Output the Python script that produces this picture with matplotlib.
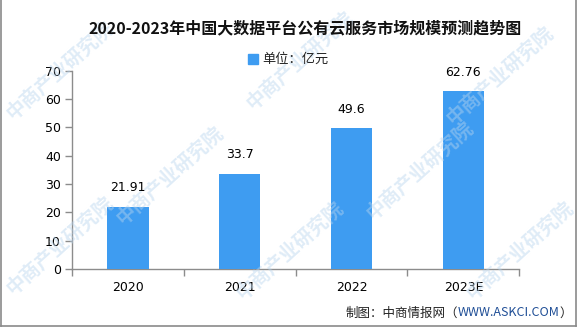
import matplotlib.pyplot as plt
from matplotlib.patches import Rectangle
from matplotlib.lines import Line2D
from matplotlib.ticker import FixedLocator

plt.rcParams['font.family'] = ['Noto Sans CJK SC', 'DejaVu Sans']

# data
years = ['2020', '2021', '2022', '2023E']
values = [21.91, 33.7, 49.6, 62.76]
value_labels = ['21.91', '33.7', '49.6', '62.76']
yticks = [0, 10, 20, 30, 40, 50, 60, 70]

bar_color = '#3E9CF1'
axis_color = '#8C8C8C'
W, H = 585, 327

fig = plt.figure(figsize=(5.85, 3.27), dpi=100)
ax = fig.add_axes([0.1231, 0.1774, 0.7646, 0.6064])

x = list(range(len(years)))
bars = ax.bar(x, values, width=0.37, color=bar_color, zorder=3)
for b, lab in zip(bars, value_labels):
    ax.annotate(lab, (b.get_x() + b.get_width() / 2, b.get_height()),
                xytext=(0, 9), textcoords='offset points',
                ha='center', va='bottom', fontsize=9, family='DejaVu Sans',
                color='black', zorder=4)

ax.set_xlim(-0.5, len(years) - 0.5)
ax.set_ylim(0, 70)
ax.set_yticks(yticks)
ax.set_yticklabels([str(t) for t in yticks], family='DejaVu Sans', fontsize=9)
ax.set_xticks(x)
ax.set_xticklabels(years, family='DejaVu Sans', fontsize=9)
ax.xaxis.set_minor_locator(FixedLocator([i - 0.5 for i in range(len(years) + 1)]))
ax.tick_params(axis='x', which='major', length=0, pad=9)
ax.tick_params(axis='x', which='minor', length=5, color=axis_color, width=1)
ax.tick_params(axis='y', length=5, color=axis_color, width=1, pad=3)

for s in ['top', 'right']:
    ax.spines[s].set_visible(False)
for s in ['left', 'bottom']:
    ax.spines[s].set_color(axis_color)
    ax.spines[s].set_linewidth(1)
ax.patch.set_alpha(0)

# title and legend line
fig.text(0.522, 0.914, '2020-2023年中国大数据平台公有云服务市场规模预测趋势图',
         ha='center', va='center', fontsize=11.5, fontweight='bold', color='#111111')
fig.patches.append(Rectangle((248 / W, 1 - 64 / H), 10 / W, 10 / H,
                             transform=fig.transFigure, color=bar_color))
fig.text(262 / W, 1 - 59 / H, '单位：亿元', ha='left', va='center',
         fontsize=9.5, color='#222222')

# footer, placed right to left so it ends near the frame
fy = 1 - 313 / H
fig.canvas.draw()
t3 = fig.text(572 / W, fy, '）', ha='right', va='center', fontsize=9, color='#222222')
fig.canvas.draw()
xr = t3.get_window_extent().x0
t2 = fig.text(xr / W, fy, 'WWW.ASKCI.COM', ha='right', va='center',
              fontsize=9, color='#1F4E96')
fig.canvas.draw()
xr = t2.get_window_extent().x0
fig.text(xr / W, fy, '制图：中商情报网（', ha='right', va='center',
         fontsize=9, color='#222222')

# faint watermark tiles
wm_pos = [(60, 70), (300, 60), (500, 75), (170, 175), (420, 170),
          (60, 245), (290, 250), (520, 250)]
for px, py in wm_pos:
    fig.text(px / W, 1 - py / H, '中商产业研究院', rotation=42, ha='center',
             va='center', fontsize=14, fontweight='bold', color='#B9D5EE',
             alpha=0.45, zorder=0)

# frame on the left, right and bottom
frame = dict(color='#8A8A8A', linewidth=1.2, transform=fig.transFigure)
fig.add_artist(Line2D([1 / W, 1 / W], [1, 1.5 / H], **frame))
fig.add_artist(Line2D([1 / W, 576 / W], [1.5 / H, 1.5 / H], **frame))
fig.add_artist(Line2D([576 / W, 576 / W], [1.5 / H, 1], **frame))

fig.savefig('out.png', dpi=100)
